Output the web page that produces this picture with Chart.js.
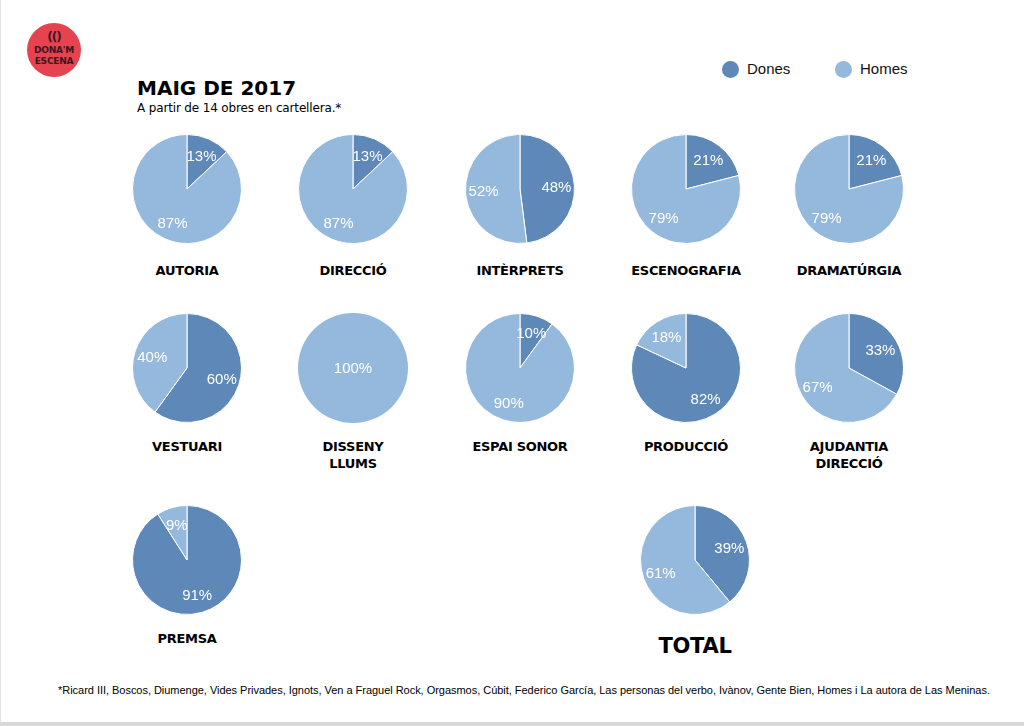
<!DOCTYPE html>
<html>
<head>
<meta charset="utf-8">
<script src="https://cdn.jsdelivr.net/npm/chart.js@4"></script>
<style>
  html, body { margin:0; padding:0; background:#fff; }
  body { width:1024px; height:726px; position:relative; overflow:hidden; }
  .frameB { position:absolute; left:0; top:722px; width:1024px; height:4px; background:#d9d9d9; }
  .frameL { position:absolute; left:0; top:0; width:1px; height:726px; background:#e6e6e6; }
  .logo { position:absolute; left:27px; top:23px; width:54px; height:54px; border-radius:50%; background:#e5434f; text-align:center; color:#3b1622; font-family:"DejaVu Sans", sans-serif; font-weight:bold; }
  .logo .ic { position:absolute; left:0; right:0; top:7px; font-size:12px; letter-spacing:-1px; }
  .logo .t1 { position:absolute; left:0; right:0; top:22px; font-size:9px; letter-spacing:-0.2px; }
  .logo .t2 { position:absolute; left:0; right:0; top:33px; font-size:9px; letter-spacing:-0.2px; }
  .title { position:absolute; left:137px; top:76px; font-family:"DejaVu Sans", sans-serif; font-weight:bold; font-size:20px; color:#000; letter-spacing:0px; }
  .sub { position:absolute; left:137px; top:101px; font-family:"DejaVu Sans", sans-serif; font-size:12px; color:#000; letter-spacing:-0.15px; }
  .leg { position:absolute; top:60px; font-family:"Liberation Sans", Arial, sans-serif; font-size:15px; color:#111; }
  .leg .dot { position:absolute; left:0; top:1px; width:17px; height:17px; border-radius:50%; }
  .leg span.t { position:absolute; left:25px; top:0; white-space:nowrap; }
  .pie { position:absolute; width:112px; height:112px; }
  .cat { position:absolute; width:160px; text-align:center; font-family:"DejaVu Sans", sans-serif; font-weight:bold; font-size:13px; line-height:17px; color:#000; letter-spacing:-0.3px; }
  .cat.big { font-size:21px; line-height:24px; }
  .foot { position:absolute; left:58px; top:684px; font-family:"Liberation Sans", Arial, sans-serif; font-size:11px; color:#000; white-space:nowrap; letter-spacing:-0.03px; }
</style>
</head>
<body>
<div class="frameL"></div>
<div class="frameB"></div>
<div class="logo"><div class="ic">(()</div><div class="t1">DONA'M</div><div class="t2">ESCENA</div></div>
<div class="title" id="title"></div>
<div class="sub" id="sub"></div>
<div class="leg" style="left:722px"><div class="dot" id="d0"></div><span class="t" id="l0"></span></div>
<div class="leg" style="left:835px"><div class="dot" id="d1"></div><span class="t" id="l1"></span></div>
<div id="charts"></div>
<div class="foot" id="foot"></div>
<script>
// ---- data ----
const titleText = "MAIG DE 2017";
const subtitleText = "A partir de 14 obres en cartellera.*";
const seriesNames = ["Dones", "Homes"];
const categories = ["AUTORIA","DIRECCIÓ","INTÈRPRETS","ESCENOGRAFIA","DRAMATÚRGIA",
                    "VESTUARI","DISSENY\nLLUMS","ESPAI SONOR","PRODUCCIÓ","AJUDANTIA\nDIRECCIÓ",
                    "PREMSA","TOTAL"];
const dones = [13,13,48,21,21,60,0,10,82,33,91,39];
const homes = [87,87,52,79,79,40,100,90,18,67,9,61];
const footnote = "*Ricard III, Boscos, Diumenge, Vides Privades, Ignots, Ven a Fraguel Rock, Orgasmos, Cúbit, Federico García, Las personas del verbo, Ivànov, Gente Bien, Homes i La autora de Las Meninas.";

// ---- layout ----
const colors = ["#5d88b8", "#95b9dc"];
const colX = [187, 353, 520, 686, 849];
const rowY = [189, 368, 560];
const labelY = [262, 438, 630];
const slots = [[0,0],[0,1],[0,2],[0,3],[0,4],[1,0],[1,1],[1,2],[1,3],[1,4],[2,0],[2,5]];
const totalX = 695;

document.getElementById('title').textContent = titleText;
document.getElementById('sub').textContent = subtitleText;
document.getElementById('foot').textContent = footnote;
seriesNames.forEach((n,i)=>{
  document.getElementById('l'+i).textContent = n;
  document.getElementById('d'+i).style.background = colors[i];
});

const pctLabels = {
  id: 'pctLabels',
  afterDatasetsDraw(chart) {
    const ctx = chart.ctx;
    const meta = chart.getDatasetMeta(0);
    const data = chart.data.datasets[0].data;
    const nonzero = data.filter(v => v > 0).length;
    ctx.save();
    ctx.fillStyle = '#fff';
    ctx.font = '15px "Liberation Sans", Arial, sans-serif';
    ctx.textAlign = 'center';
    ctx.textBaseline = 'middle';
    meta.data.forEach((arc, i) => {
      const v = data[i];
      if (!v) return;
      const p = arc.getProps(['x','y','startAngle','endAngle','outerRadius'], true);
      let x = p.x, y = p.y;
      if (nonzero > 1) {
        const mid = (p.startAngle + p.endAngle) / 2;
        const r = p.outerRadius * 0.67;
        x += Math.cos(mid) * r;
        y += Math.sin(mid) * r;
      }
      ctx.fillText(v + '%', x, y + 1);
    });
    ctx.restore();
  }
};

const host = document.getElementById('charts');
categories.forEach((cat, i) => {
  const [r, c] = slots[i];
  const cx = c === 5 ? totalX : colX[c];
  const cy = rowY[r];
  const d = document.createElement('div');
  d.className = 'pie';
  d.style.left = (cx - 56) + 'px';
  d.style.top = (cy - 56) + 'px';
  const cv = document.createElement('canvas');
  d.appendChild(cv);
  host.appendChild(d);

  const lab = document.createElement('div');
  lab.className = 'cat' + (cat === 'TOTAL' ? ' big' : '');
  lab.style.left = (cx - 80) + 'px';
  lab.style.top = (cat === 'TOTAL' ? labelY[r] + 4 : labelY[r]) + 'px';
  lab.innerHTML = cat.split('\n').join('<br>');
  host.appendChild(lab);

  const vals = [dones[i], homes[i]];
  const hasZero = vals.some(v => v === 0);
  new Chart(cv, {
    type: 'pie',
    data: {
      labels: seriesNames,
      datasets: [{
        data: vals,
        backgroundColor: colors,
        borderColor: '#ffffff',
        borderWidth: hasZero ? 0 : 1
      }]
    },
    options: {
      responsive: true,
      maintainAspectRatio: false,
      animation: false,
      layout: { padding: 1 },
      plugins: { legend: { display: false }, tooltip: { enabled: false } }
    },
    plugins: [pctLabels]
  });
});
</script>
</body>
</html>
